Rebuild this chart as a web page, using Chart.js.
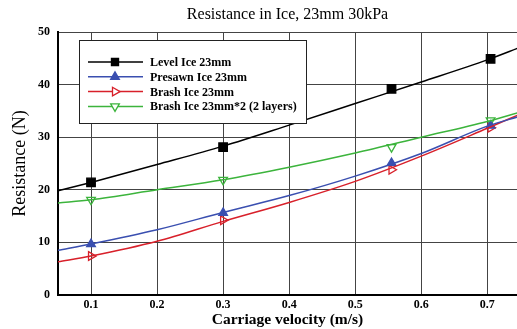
<!DOCTYPE html>
<html lang="en">
<head>
    <meta charset="UTF-8">
    <title>Resistance in Ice</title>
    <style>
        html, body { margin: 0; padding: 0; background: #fff; }
        #wrap { width: 517px; height: 329px; }
    </style>
</head>
<body>
<div id="wrap"><canvas id="chart" width="517" height="329"></canvas></div>
<script src="https://cdn.jsdelivr.net/npm/chart.js@4"></script>
<script>
    // measured points
    var velocity = [0.1, 0.3, 0.555, 0.705];
    var levelIce = [21.4, 28.1, 39.2, 44.9];
    var presawnIce = [9.7, 15.6, 25.1, 32.2];
    var brashIce = [7.4, 14.2, 23.8, 31.8];
    var brashIce2 = [18.1, 21.9, 28.1, 33.2];

    // fitted curves
    var curveX = [0.05, 0.1, 0.2, 0.3, 0.4, 0.5, 0.6, 0.7, 0.75];
    var levelFit = [19.8, 21.4, 24.8, 28.3, 32.3, 36.4, 40.5, 44.7, 47.1];
    var presawnFit = [8.5, 9.7, 12.4, 15.7, 18.9, 22.6, 26.9, 32.1, 34.0];
    var brashFit = [6.3, 7.4, 10.2, 14.0, 17.6, 21.6, 26.4, 31.7, 34.4];
    var brash2Fit = [17.5, 18.1, 20.0, 21.9, 24.3, 27.0, 30.0, 33.0, 34.8];

    var xTicks = [0.1, 0.2, 0.3, 0.4, 0.5, 0.6, 0.7];

    var series = [
        { label: 'Level Ice 23mm', fit: levelFit, pts: levelIce, color: '#000000', style: 'rect', rot: 0, fill: true },
        { label: 'Presawn Ice 23mm', fit: presawnFit, pts: presawnIce, color: '#3a4fb0', style: 'triangle', rot: 0, fill: true },
        { label: 'Brash Ice 23mm', fit: brashFit, pts: brashIce, color: '#d8202a', style: 'triangle', rot: 90, fill: false },
        { label: 'Brash Ice 23mm*2 (2 layers)', fit: brash2Fit, pts: brashIce2, color: '#3cb43c', style: 'triangle', rot: 180, fill: false }
    ];

    function markerSize(s) {
        return s.style === 'rect' ? 6 : 5;
    }

    function pairs(xs, ys) {
        return xs.map(function (x, i) { return { x: x, y: ys[i] }; });
    }

    var datasets = [];
    series.forEach(function (s) {
        datasets.push({
            label: s.label,
            data: pairs(curveX, s.fit),
            borderColor: s.color,
            borderWidth: 1.5,
            pointRadius: 0,
            cubicInterpolationMode: 'monotone',
            showLine: true
        });
    });
    series.forEach(function (s) {
        datasets.push({
            label: s.label + ' pts',
            data: pairs(velocity, s.pts),
            showLine: false,
            pointStyle: s.style,
            rotation: s.rot,
            pointRadius: markerSize(s),
            borderColor: s.color,
            backgroundColor: s.fill ? s.color : 'rgba(255,255,255,0)',
            borderWidth: 1.3
        });
    });

    var serif = '"Liberation Serif", "DejaVu Serif", serif';

    // legend box drawn inside the plot, top-left
    var boxLegend = {
        id: 'boxLegend',
        afterDatasetsDraw: function (chart) {
            var ctx = chart.ctx;
            var x0 = 79, y0 = 40, w = 227, h = 83;
            ctx.save();
            ctx.fillStyle = '#fff';
            ctx.fillRect(x0, y0, w, h);
            ctx.strokeStyle = '#222';
            ctx.lineWidth = 1;
            ctx.strokeRect(x0 + 0.5, y0 + 0.5, w, h);
            ctx.font = 'bold 12px ' + serif;
            ctx.textBaseline = 'middle';
            series.forEach(function (s, i) {
                var y = 62 + i * 14.8;
                ctx.strokeStyle = s.color;
                ctx.lineWidth = 1.5;
                ctx.beginPath();
                ctx.moveTo(88, y);
                ctx.lineTo(143, y);
                ctx.stroke();

                ctx.fillStyle = s.fill ? s.color : '#fff';
                ctx.lineWidth = 1.3;
                Chart.helpers.drawPoint(ctx, {
                    pointStyle: s.style,
                    rotation: s.rot,
                    radius: s.style === 'rect' ? 5 : 5,
                    borderWidth: 1.3
                }, 115, y);

                ctx.fillStyle = '#000';
                ctx.fillText(s.label, 150, y + 1);
            });
            ctx.restore();
        }
    };

    new Chart(document.getElementById('chart'), {
        type: 'scatter',
        data: { datasets: datasets },
        plugins: [boxLegend],
        options: {
            responsive: false,
            animation: false,
            layout: { padding: 0, autoPadding: false },
            plugins: {
                legend: { display: false },
                tooltip: { enabled: false },
                title: {
                    display: true,
                    fullSize: false,
                    text: 'Resistance in Ice, 23mm 30kPa',
                    color: '#000',
                    font: { family: serif, size: 16, weight: 'normal' },
                    padding: { top: 5, bottom: 7.8 }
                }
            },
            scales: {
                x: {
                    type: 'linear',
                    min: 0.05,
                    max: 0.745,
                    afterBuildTicks: function (scale) {
                        scale.ticks = xTicks.map(function (v) { return { value: v }; });
                    },
                    afterFit: function (scale) {
                        scale.height = 34;
                        scale.paddingLeft = 0;
                        scale.paddingRight = 0;
                    },
                    border: { color: '#000', width: 2 },
                    grid: { color: '#444', lineWidth: 1, drawTicks: false },
                    ticks: {
                        color: '#000',
                        padding: 3,
                        maxRotation: 0,
                        font: { family: serif, size: 12, weight: 'bold' },
                        callback: function (v) { return v.toFixed(1); }
                    },
                    title: {
                        display: true,
                        text: 'Carriage velocity (m/s)',
                        color: '#000',
                        font: { family: serif, size: 15.5, weight: 'bold' },
                        padding: { top: 0, bottom: 0 }
                    }
                },
                y: {
                    min: 0,
                    max: 50,
                    afterFit: function (scale) { scale.width = 58; },
                    border: { color: '#000', width: 2 },
                    grid: { color: '#444', lineWidth: 1, drawTicks: false },
                    ticks: {
                        stepSize: 10,
                        color: '#000',
                        padding: 8,
                        font: { family: serif, size: 12, weight: 'bold' }
                    },
                    title: {
                        display: true,
                        text: 'Resistance (N)',
                        color: '#000',
                        font: { family: serif, size: 18, weight: 'normal' },
                        padding: { top: 9, bottom: 4 }
                    }
                }
            }
        }
    });
</script>
</body>
</html>
